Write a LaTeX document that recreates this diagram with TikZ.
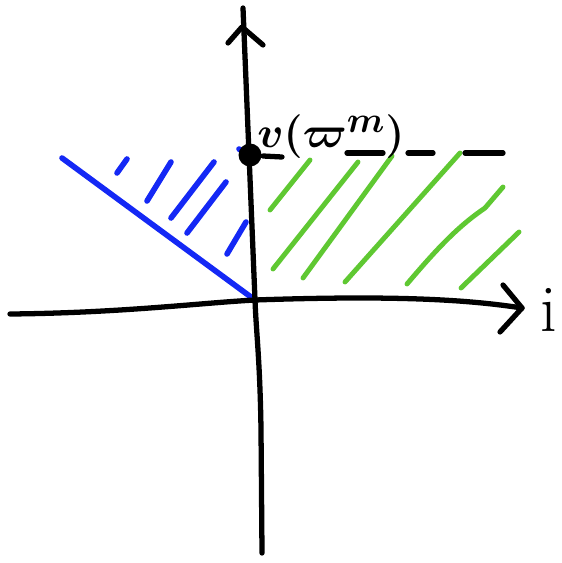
\documentclass[tikz,border=0pt]{standalone}
\usepackage{amsmath}
\usepackage{amssymb}
\usetikzlibrary{positioning, arrows.meta, calc}
\definecolor{penblue}{RGB}{20,40,245}
\definecolor{pengreen}{RGB}{95,200,50}

\begin{document}
\begin{tikzpicture}[x=0.02cm, y=-0.02cm, line cap=round, line join=round]
\tikzset{
  ax/.style={line width=3pt, black},
  bluepen/.style={line width=3.2pt, penblue},
  greenpen/.style={line width=2.8pt, pengreen},
  big/.style={font=\fontsize{30}{35}\selectfont\boldmath}
}
\useasboundingbox (0,0) rectangle (561,563);
% Points
\coordinate (o) at (255,300);
\coordinate (xstart) at (10,314);
\coordinate (xtip) at (522,308);
\coordinate (ybot) at (262,553);
\coordinate (ytip) at (243,8);
\coordinate (bl) at (62,158);
\coordinate (dend) at (503,153);
% Blue region
\draw[bluepen] (bl) -- (o);
\draw[bluepen] (117,173) -- (127,159);
\draw[bluepen] (147,201) -- (171,162);
\draw[bluepen] (171,218) -- (214,162);
\draw[bluepen] (187,233) -- (226,182);
\draw[bluepen] (227,254) -- (246,222);
\draw[bluepen] (239,149) -- (247,154);
% Green region
\draw[greenpen] (270,210) -- (310,160);
\draw[greenpen] (273,269) -- (358,162);
\draw[greenpen] (303,278) -- (392,156);
\draw[greenpen] (345,282) -- (460,153);
\draw[greenpen] (407,284) .. controls (440,245) and (460,225) .. (485,208) -- (503,187);
\draw[greenpen] (461,288) -- (519,232);
% Axes
\draw[ax] (xstart) .. controls (120,313) and (200,303) .. (o) .. controls (400,295) and (470,300) .. (xtip);
\draw[ax] (503,285) -- (xtip) -- (500,332);
\draw[ax] (ybot) -- (261,430) .. controls (260,360) and (256,330) .. (o) -- (ytip);
\draw[ax] (228,43) -- (242,27) -- (263,45);
\node[font=\fontsize{38}{44}\selectfont, anchor=base] (ilbl) at (549,331) {i};
% Level line
\node[circle, fill=black, minimum size=0.46cm, inner sep=0pt] (pt) at (250,155) {};
\draw[ax] (263,156) -- (282,157);
\draw[ax] (347,153) -- (383,153);
\draw[ax] (408,153) -- (433,153);
\draw[ax] (465,153) -- (dend);
\node[big, anchor=base west, inner sep=0pt] (lbl) at (257,148) {$v(\varpi^m)$};
\end{tikzpicture}
\end{document}
